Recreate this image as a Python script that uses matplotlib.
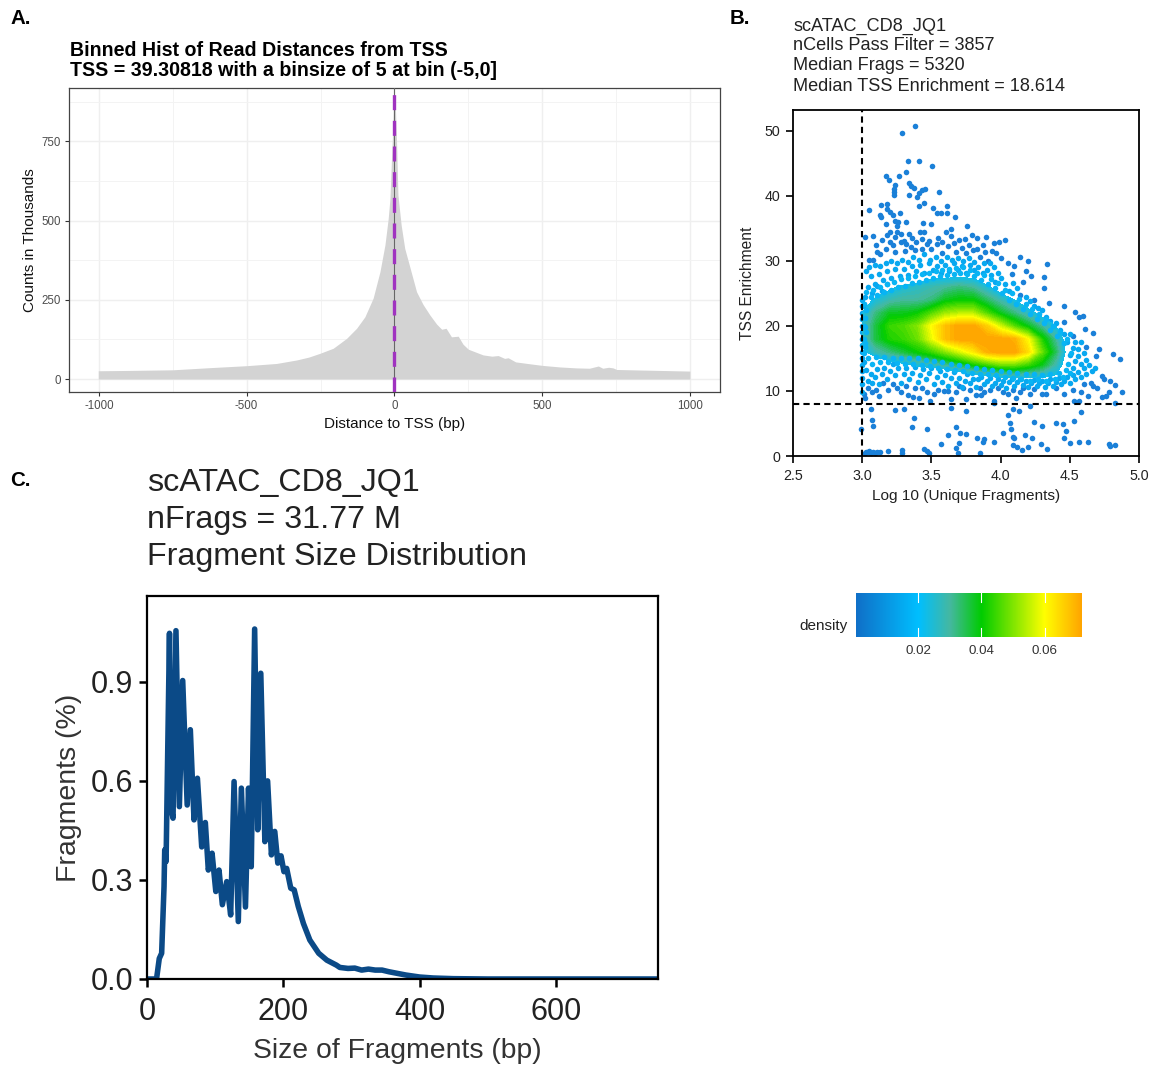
import matplotlib
matplotlib.use("Agg")
import matplotlib.pyplot as plt
import numpy as np
from matplotlib.colors import LinearSegmentedColormap, Normalize

plt.rcParams['font.family'] = ['Liberation Sans', 'DejaVu Sans']
plt.rcParams['axes.unicode_minus'] = False
W, H = 1158, 1066

# ---------- Panel A data ----------
tss_dist = [-1002,-900,-750,-620,-500,-399,-331,-290,-252,-207,-162,-128,-100,-72,-49,-32,-21,-15,-10,-5,-2.5,0,2.5,7,12,23,35,52,75,97,
            120,143,160,175,193,216,232,250,275,300,330,351,373,385,410,450,500,560,616,660,690,705,725,740,752,850,1000]
tss_counts = [26,27,29,36,42,49,60,69,81,97,128,160,196,255,338,423,506,570,690,800,885,890,880,760,580,485,412,354,275,235,
              202,173,157,160,133,135,110,94,85,76,72,74,65,67,54,49,43,38,35,34,41,34,37,35,30,28,25]
tss_xticks = [-1000,-500,0,500,1000]
tss_yticks = [0,250,500,750]

# ---------- Panel B data ----------
dens_x = [3.0,3.1,3.2,3.3,3.4,3.5,3.6,3.7,3.8,3.9,4.0,4.1,4.2,4.3,4.4,4.5,4.6]
dens_y = [10,12,14,16,18,20,22,24,26,28,30]
dens_grid = [
 [0,0,0,0,0,0,0,0,0,0,0,0,0,0,0,0,0],
 [5,5,5,5,5,5,5,10,14,18,20,22,22,22,20,6,0],
 [8,12,18,20,24,26,30,34,40,44,48,48,44,38,28,14,0],
 [20,28,32,36,40,44,50,56,62,70,72,72,64,48,34,16,0],
 [24,36,42,44,48,58,68,72,72,72,72,70,60,42,30,14,0],
 [24,36,44,46,50,60,68,72,72,66,56,46,38,30,22,8,0],
 [22,32,38,38,40,46,52,54,54,46,38,32,26,18,12,0,0],
 [16,24,28,30,30,32,38,40,40,34,28,22,14,8,0,0,0],
 [10,14,20,24,26,28,30,32,30,24,16,10,0,0,0,0,0],
 [0,0,10,10,10,18,18,18,18,10,0,0,0,0,0,0,0],
 [0,0,0,0,0,0,0,0,0,0,0,0,0,0,0,0,0]]
density_ticks = [0.02,0.04,0.06]
sparse_pts = [
 (3.286,49.7),(3.383,50.8),(3.332,45.3),(3.41,45.4),(3.506,44.6),(3.317,43.6),(3.17,43.1),(3.194,42.5),(3.264,43.0),
 (3.339,42.0),(3.356,41.5),(3.375,41.2),(3.235,41.6),(3.23,41.1),(3.228,40.6),(3.228,40.1),(3.339,40.1),(3.554,40.6),
 (3.453,41.0),(3.43,40.9),(3.41,40.4),(3.397,39.8),(3.138,38.6),(3.179,38.8),(3.409,38.5),(3.45,38.9),(3.048,37.9),
 (3.508,38.1),(3.613,38.5),(3.126,37),(3.138,36.7),(3.18,38),(3.2,37.5),(3.22,37),(3.235,36.2),(3.276,37.4),(3.26,36),
 (3.32,36),(3.17,35.6),(3.25,35.3),(3.2,34.4),(3.25,34.4),(3.235,33.7),(3.28,34.2),(3.34,34.2),(3.415,34.4),(3.44,35.8),
 (3.5,35.6),(3.45,34.4),(3.54,37.3),(3.57,37.3),(3.61,37.3),(3.67,36.7),(3.755,35.3),(3.605,34.5),(3.645,34.9),(3.64,33.9),
 (3.79,34),(3.83,33.5),(3.895,33.6),(3.95,32.7),(3.99,32.9),(4.03,33.2),(3.875,32.4),(3.02,33.6),(3.08,33.9),(3.10,32.4),
 (3.11,31.3),(3.05,30.2),(3.08,30.2),(3.17,31.9),(3.22,32.4),(3.28,32.9),(3.32,32.6),(3.39,32.9),(3.465,32.6),(3.54,32.6),
 (3.62,32.3),(3.72,32),(3.77,32.5),(3.85,30.6),(3.94,31.5),(3.97,31.2),(4.14,30.6),(4.2,30),(4.335,29.5),(4.31,27.5),
 (4.31,25.8),(4.16,26.7),(4.08,28),(4.35,23.5),(4.46,23.1),(4.54,22.1),(4.565,21.3),(4.595,21.6),(4.46,20.6),(4.61,19.5),
 (4.67,18.9),(4.71,16.4),(4.81,15.7),(4.865,14.9),(4.69,15.4),(4.615,16.8),(4.52,18.5),(4.24,24),(4.14,24.8),(3.36,33.5),
 (3.3,33.1),(3.35,32.1),(3.43,33.4),(3.5,31.8),(3.58,31.2),(3.68,31.4),(3.75,31.2),(3.14,33.2),(3.18,34.0),(3.2,32.9),
 (3.13,31.0),(3.24,31.4),(3.31,31.5),(3.38,31.6),(3.43,31.8),(3.48,33.0),(3.55,33.5),(3.58,32.9),(3.66,32.8),(3.7,33.2),
 (3.74,33.4),(3.8,31.6),(3.83,31.8),(3.89,31.3),(3.91,30.0),(4.0,30.4),(4.05,29.6),(4.1,29.2),(4.18,28.4),(4.22,27.6),
 # lower sparse
 (3.02,.5),(3.03,.6),(3.04,.6),(3.05,.7),(3.06,.5),(3.08,.6),(3.09,.5),(3.11,.6),(3.13,.6),(3.19,.7),(3.29,.9),(3.29,.4),
 (3.45,1.0),(3.47,.7),(3.48,.5),(2.99,4.2),(3.07,5.5),(3.08,4.6),(3.06,7.2),(3.235,7.1),(3.30,7.2),(3.375,5.8),(3.36,4.4),
 (3.47,4.1),(3.675,4.4),(3.71,3.5),(3.75,3.4),(3.62,3.2),(3.57,1.8),(3.70,2.0),(3.675,1.3),(3.69,.4),(3.85,.5),(3.83,2.7),
 (3.88,2.6),(3.875,2.1),(3.955,2.2),(4.02,3.6),(4.05,6.3),(4.07,5.0),(4.075,4.2),(4.09,2.9),(4.10,2.7),(4.09,1.7),(4.12,1.4),
 (4.155,.9),(4.2,1.4),(4.175,3.3),(4.23,2.7),(4.29,1.9),(4.335,1.0),(4.24,5.2),(4.3,4.6),(4.4,5.0),(4.45,4.9),(4.47,3.8),
 (4.46,2.7),(4.5,2.0),(4.57,2.2),(4.63,2.1),(4.785,1.8),(4.79,1.5),(4.83,1.7),(4.53,5.4),(4.58,6.8),(3.75,6.9),(3.64,7.4),
 (4.09,7.3),(4.135,6.9),(4.21,7.7),(3.955,8.1),(4.83,8.1),
 # lower band, darker dots
 (3.02,8.9),(3.01,9.5),(3.12,9.3),(3.33,9.4),(3.37,9.0),(3.41,8.9),(3.49,8.5),(3.64,8.8),(3.75,8.7),(3.82,9.4),(3.86,9.4),
 (3.95,8.5),(4.02,9.8),(4.11,8.9),(4.21,9.6),(4.3,9.5),(4.33,9.6),(4.46,9.5),(4.53,8.5),(4.565,8.5),(4.58,9.8),(4.63,9.3),
 (4.735,9),(4.76,9.2),(4.785,9.8),(4.88,9.8),(4.83,10.9),(4.79,11.6),(4.75,11.8),(4.735,12.3),(4.7,10.5),(4.665,10.8),
 (3.10,10.1),(3.19,10.2),(3.25,10.5),(3.32,10.8),(3.43,10.5),(3.55,10.2),(3.59,10.0),(3.68,9.8),(3.73,10.4),(3.78,10.1),
 (3.85,10.5),(3.92,10.2),(3.98,10.4),(4.09,10.1),(4.16,10.4),(4.24,10.3),(4.4,10.4),(4.52,10.2),(4.6,11.0),(4.65,11.2),
 (3.04,10.4),(3.07,9.8),(3.15,11.2),(3.22,11.0),(3.28,9.9),(3.38,10.4),(3.47,9.8),(3.52,9.6),(3.62,10.0),(3.7,10.8),(3.88,9.9),(4.05,9.6),(4.14,9.8)]
ring_pts = [
 (3.0,9.9),(3.0,11),(3.0,12),(3.0,13),(3.0,14),(3.0,15),(3.0,16),(3.0,17),(3.0,18),(3.0,19),(3.0,20),(3.0,21),(3.0,22),(3.0,23),(3.0,24),
 (3.02,24.5),(3.01,23.3),(3.03,22.7),(3.01,14.4),(3.03,13.2),(3.04,11.6),(3.06,12.6),(3.07,11.2),(3.09,12.1),(3.11,13.4),(3.12,11),
 (3.14,12.6),(3.16,13.6),(3.18,11.8),(3.2,13.0),(3.22,14.1),(3.24,12.4),(3.26,13.5),(3.28,11.2),(3.3,12.6),(3.32,13.6),(3.34,11.8),
 (3.36,12.8),(3.38,13.7),(3.4,11.4),(3.42,12.5),(3.44,13.4),(3.46,11.8),(3.48,12.7),(3.5,13.5),(3.52,11),(3.54,12.2),(3.56,13),
 (3.58,11.4),(3.6,12.5),(3.62,10.8),(3.64,12),(3.66,12.9),(3.68,11.2),(3.7,12),(3.72,10.6),(3.74,11.6),(3.76,12.6),(3.78,11.2),
 (3.8,11.9),(3.82,10.6),(3.84,11.8),(3.86,12.1),(3.88,11),(3.9,11.6),(3.92,12),(3.94,10.8),(3.96,11.3),(3.98,11.9),(4.0,10.9),
 (4.02,11.5),(4.04,10.5),(4.06,11.4),(4.08,11.9),(4.1,10.8),(4.12,11.4),(4.14,11.9),(4.16,10.9),(4.18,11.5),(4.2,10.6),(4.22,11.2),
 (4.24,11.7),(4.26,10.8),(4.28,11.2),(4.3,11.6),(4.32,10.6),(4.34,11.2),(4.36,11.8),(4.38,10.8),(4.4,11.4),(4.42,12),(4.44,11),
 (4.46,11.6),(4.48,12.2),(4.5,11.2),(4.52,12.4),(4.54,11.8),(4.56,12.9),(4.58,12.2),(4.6,13.6),(4.62,12.6),(4.64,14),(4.66,13),(4.68,13.6),
 (4.52,13.6),(4.54,14.6),(4.56,15.4),(4.58,14.2),(4.6,15.8),(4.62,14.8),(4.5,15.6),(4.52,16.6),(4.54,17.6),(4.56,16.4),(4.58,17.6),
 (4.48,17.6),(4.46,18.8),(4.5,18.8),(4.43,19.4),(4.4,20.4),(4.36,20.8),(4.33,21.4),(4.38,19.6),(4.3,22.4),(4.27,22.8),(4.24,23.0),
 (4.21,23.8),(4.18,24.4),(4.12,25.8),(4.09,26.6),(4.06,25.4),(4.03,26.4),(4.0,27.4),(3.98,28.2),(3.96,26.8),(3.93,27.8),(3.9,28.6),
 (3.87,28.2),(3.84,29.0),(3.81,28.6),(3.78,29.4),(3.75,28.2),(3.72,29.2),(3.69,28.6),(3.66,29.6),(3.63,28.4),(3.6,29.4),(3.57,28.2),
 (3.54,29.2),(3.51,28.6),(3.48,29.6),(3.45,28.2),(3.42,29.4),(3.39,28.4),(3.36,29.2),(3.33,27.9),(3.3,28.8),(3.27,27.6),(3.24,28.8),
 (3.21,27.4),(3.18,28.4),(3.15,27.0),(3.12,28.0),(3.09,26.4),(3.06,27.6),(3.04,26.0),(3.03,28.4),(3.07,25.0),(3.11,26.2),(3.14,25.4),
 (3.18,26.4),(3.05,29.0),(3.09,29.4),(3.13,29.2),(3.17,29.6),(3.21,30.0),(3.25,29.6),(3.29,30.2),(3.33,29.8),(3.37,30.6),(3.41,30.2),
 (3.45,31.0),(3.49,30.2),(3.53,30.6),(3.57,30.0),(3.61,30.6),(3.65,30.2),(3.69,30.4),(3.73,30.0),(3.77,30.4),(3.81,29.8),(3.88,29.6),
 (3.92,29.6),(3.95,29.0)]
edge_pts = [
 (3.03,25.2),(3.06,24.4),(3.08,25.6),(3.11,24.8),(3.13,26),(3.16,25.2),(3.18,26.4),(3.21,25.6),(3.23,26.8),(3.26,26),(3.28,27.2),
 (3.31,26.2),(3.33,27.4),(3.36,26.6),(3.38,27.6),(3.41,26.8),(3.43,28),(3.46,27),(3.48,28.2),(3.51,27.4),(3.53,28.4),(3.56,27.6),
 (3.58,28.6),(3.61,27.8),(3.63,28.8),(3.66,28),(3.68,28.9),(3.71,28.2),(3.73,29),(3.76,28),(3.78,28.6),(3.81,27.6),(3.83,28.2),
 (3.86,27),(3.88,27.8),(3.91,26.4),(3.93,27.2),(3.96,25.8),(3.98,26.6),(4.01,25),(4.03,25.6),(4.06,24),(4.08,25),(4.11,23.4),
 (4.13,24.2),(4.16,22.6),(4.18,23.4),(4.21,21.8),(4.23,22.6),(4.26,21),(4.28,21.8),(4.31,20.4),(4.33,21),(4.36,19.4),(4.38,20),
 (4.41,18.4),(4.43,19),(4.46,17.4),(4.48,18),(4.51,15.8),(4.49,14.2),(4.47,13.2),(4.5,12.8),
 (4.45,12.2),(4.42,12.8),(4.39,11.8),(4.36,12.6),(4.33,11.6),(4.3,12.4),(4.27,11.8),(4.24,12.6),(4.21,11.6),(4.18,12.6),(4.15,11.8),
 (4.12,12.8),(4.09,12),(4.06,12.9),(4.03,12.2),(4.0,13),(3.97,12.4),(3.94,13.2),(3.91,12.6),(3.88,13.4),(3.85,12.6),(3.82,13.5),
 (3.79,12.8),(3.76,13.8),(3.73,13),(3.7,14),(3.67,13.2),(3.64,14.2),(3.61,13.4),(3.58,14.4),(3.55,13.6),(3.52,14.6),(3.49,13.8),
 (3.46,14.8),(3.43,14),(3.4,15),(3.37,14.2),(3.34,15),(3.31,14.2),(3.28,15.1),(3.25,14.3),(3.22,15.1),(3.19,14.4),(3.16,15.2),
 (3.13,14.4),(3.1,15.2),(3.07,14.2),(3.04,15),(3.01,15.8),
 (3.02,16.8),(3.01,18),(3.03,19),(3.01,20),(3.02,21.2),(3.03,22.4),(3.01,23.4),(3.02,17.4),(3.02,19.8)]

# ---------- Panel C data ----------
frag_size = [1,14,18,21.5,25,26,28,33,35,38.2,42.5,47.5,52.4,59,63.6,69,74,80.3,85.6,90,95.5,101,105.7,110.6,117,122.8,127.8,134,
             138.5,144.5,149,153,158,162.5,167,173,177,182.6,187.5,192,196.7,201,205,211,216,222,229.6,239,252,264,278,
             283,295,305,315,325,335,345,355,365,380,400,420,450,500,750]
frag_pct = [0,0,.062,.078,.28,.391,.356,1.047,.522,.487,1.055,.522,.904,.527,.755,.482,.608,.40,.474,.33,.381,.265,.33,.225,.295,.194,.598,.174,
            .578,.218,.578,.34,1.06,.452,.926,.416,.6,.376,.447,.351,.373,.325,.335,.275,.27,.22,.168,.118,.078,.057,.042,
            .035,.032,.033,.027,.03,.027,.027,.022,.018,.012,.006,.003,.001,0,0]

fig = plt.figure(figsize=(W/100, H/100), dpi=100, facecolor='white')

def axpx(l, t, r, b):
    return fig.add_axes([l/W, 1-b/H, (r-l)/W, (b-t)/H])

def txt(x, y, s, **k):
    k.setdefault('va', 'center')
    fig.text(x/W, 1-y/H, s, **k)

# ---------- A ----------
a = axpx(69, 88, 719.5, 392)
a.set_xlim(-1101, 1100)
a.set_ylim(-41, 918)
a.set_axisbelow(True)
a.set_xticks(tss_xticks); a.set_yticks(tss_yticks)
a.set_xticks([-750,-250,250,750], minor=True)
a.set_yticks([125,375,625,875], minor=True)
a.grid(True, which='major', color='#EFEFEF', lw=1.0)
a.grid(True, which='minor', color='#F3F3F3', lw=0.7)
a.fill_between(tss_dist, 0, tss_counts, color='#D3D3D3', lw=0, zorder=2)
a.axvline(0, color='#666666', lw=0.8, zorder=3)
a.axvline(0, color='#A033C0', lw=2.4, dashes=(4.5, 3.2), zorder=4)
a.tick_params(which='major', length=3, width=0.8, color='#333333', labelsize=8.3, labelcolor='#4D4D4D', pad=3)
a.tick_params(which='minor', length=0)
for s in a.spines.values():
    s.set_color('#444444'); s.set_linewidth(0.9)
a.set_xlabel('Distance to TSS (bp)', fontsize=11, color='#111111', labelpad=3.5)
a.set_ylabel('Counts in Thousands', fontsize=11, color='#111111', labelpad=3)
txt(70, 50, 'Binned Hist of Read Distances from TSS', fontsize=14.15, fontweight='bold', color='black')
txt(70, 71, 'TSS = 39.30818 with a binsize of 5 at bin (-5,0]', fontsize=14.15, fontweight='bold', color='black')

# ---------- B ----------
stops = [(0.0,'#1070C8'),(0.0197/0.0714,'#00BFFF'),(0.0297/0.0714,'#45B8A0'),(0.0397/0.0714,'#00CC00'),(0.0597/0.0714,'#FFFF00'),(1.0,'#FFA500')]
cmap = LinearSegmentedColormap.from_list('dens', stops)
norm = Normalize(0.0003, 0.0717)
b = axpx(793, 110, 1139, 456)
b.set_xlim(2.5, 5.0); b.set_ylim(0, 53.2)
sx, sy = zip(*sparse_pts)
rx, ry = zip(*ring_pts)
ex, ey = zip(*edge_pts)
b.scatter(sx, sy, s=16, color='#1A80D8', lw=0, zorder=2, clip_on=False)
b.scatter(rx, ry, s=16, color='#08A8F0', lw=0, zorder=2)
levels = np.linspace(0.022, 0.072, 40)
b.contourf(dens_x, dens_y, np.array(dens_grid)/1000.0, levels=levels, cmap=cmap, norm=norm, zorder=3, extend='max')
b.scatter(ex, ey, s=16, color='#08B4F4', lw=0, zorder=3.5)
b.axvline(3.0, color='black', lw=1.5, dashes=(3, 2), zorder=4)
b.axhline(7.95, color='black', lw=1.5, dashes=(3, 2), zorder=4)
b.set_xticks([2.5,3.0,3.5,4.0,4.5,5.0]); b.set_yticks([0,10,20,30,40,50])
b.set_xticklabels(['2.5','3.0','3.5','4.0','4.5','5.0'])
b.tick_params(length=5, width=1.2, labelsize=10.3, labelcolor='#222222', pad=4)
for s in b.spines.values():
    s.set_linewidth(1.3)
b.set_xlabel('Log 10 (Unique Fragments)', fontsize=11.1, color='#222222', labelpad=5)
b.set_ylabel('TSS Enrichment', fontsize=11.2, color='#222222', labelpad=7)
for yy, s in zip([26,46,66,86], ['scATAC_CD8_JQ1','nCells Pass Filter = 3857','Median Frags = 5320','Median TSS Enrichment = 18.614']):
    txt(793, yy, s, fontsize=13.1, color='#222222')

# legend
l = axpx(856, 593, 1081.5, 637)
grad = np.linspace(0.0003, 0.0717, 400).reshape(1, -1)
l.imshow(grad, aspect='auto', cmap=cmap, norm=norm, extent=[0.0003, 0.0717, 0, 1])
l.set_xlim(0.0003, 0.0717); l.set_ylim(0, 1)
for t in density_ticks:
    l.plot([t, t], [0, 0.2], color='white', lw=0.8)
    l.plot([t, t], [0.8, 1], color='white', lw=0.8)
l.set_yticks([]); l.set_xticks(density_ticks)
l.set_xticklabels(['0.02','0.04','0.06'])
l.tick_params(length=0, labelsize=9.6, labelcolor='#333333', pad=6)
for s in l.spines.values():
    s.set_visible(False)
txt(799, 626, 'density', fontsize=11, color='#222222')

# ---------- C ----------
c = axpx(147, 596, 658, 979)
c.set_xlim(0, 750); c.set_ylim(0, 1.16)
c.plot(frag_size, frag_pct, color='#0B4A87', lw=4.0, solid_joinstyle='round', clip_on=True)
c.set_xticks([0,200,400,600]); c.set_yticks([0,0.3,0.6,0.9])
c.set_yticklabels(['0.0','0.3','0.6','0.9'])
c.tick_params(length=6, width=1.8, labelsize=22, labelcolor='#222222', pad=4)
c.tick_params(axis='x', pad=7)
for s in c.spines.values():
    s.set_linewidth(1.6)
c.set_xlabel('Size of Fragments (bp)', fontsize=20.4, color='#333333', labelpad=8, x=0.49)
c.set_ylabel('Fragments (%)', fontsize=20.5, color='#333333', labelpad=6)
for yy, s in zip([483,520,557], ['scATAC_CD8_JQ1','nFrags = 31.77 M','Fragment Size Distribution']):
    txt(147, yy, s, fontsize=23.2, color='#222222')

# panel letters
txt(10, 19, 'A.', fontsize=14.8, fontweight='bold')
txt(730, 19, 'B.', fontsize=14.8, fontweight='bold')
txt(10, 481, 'C.', fontsize=14.8, fontweight='bold')

fig.savefig('out.png', dpi=100)
